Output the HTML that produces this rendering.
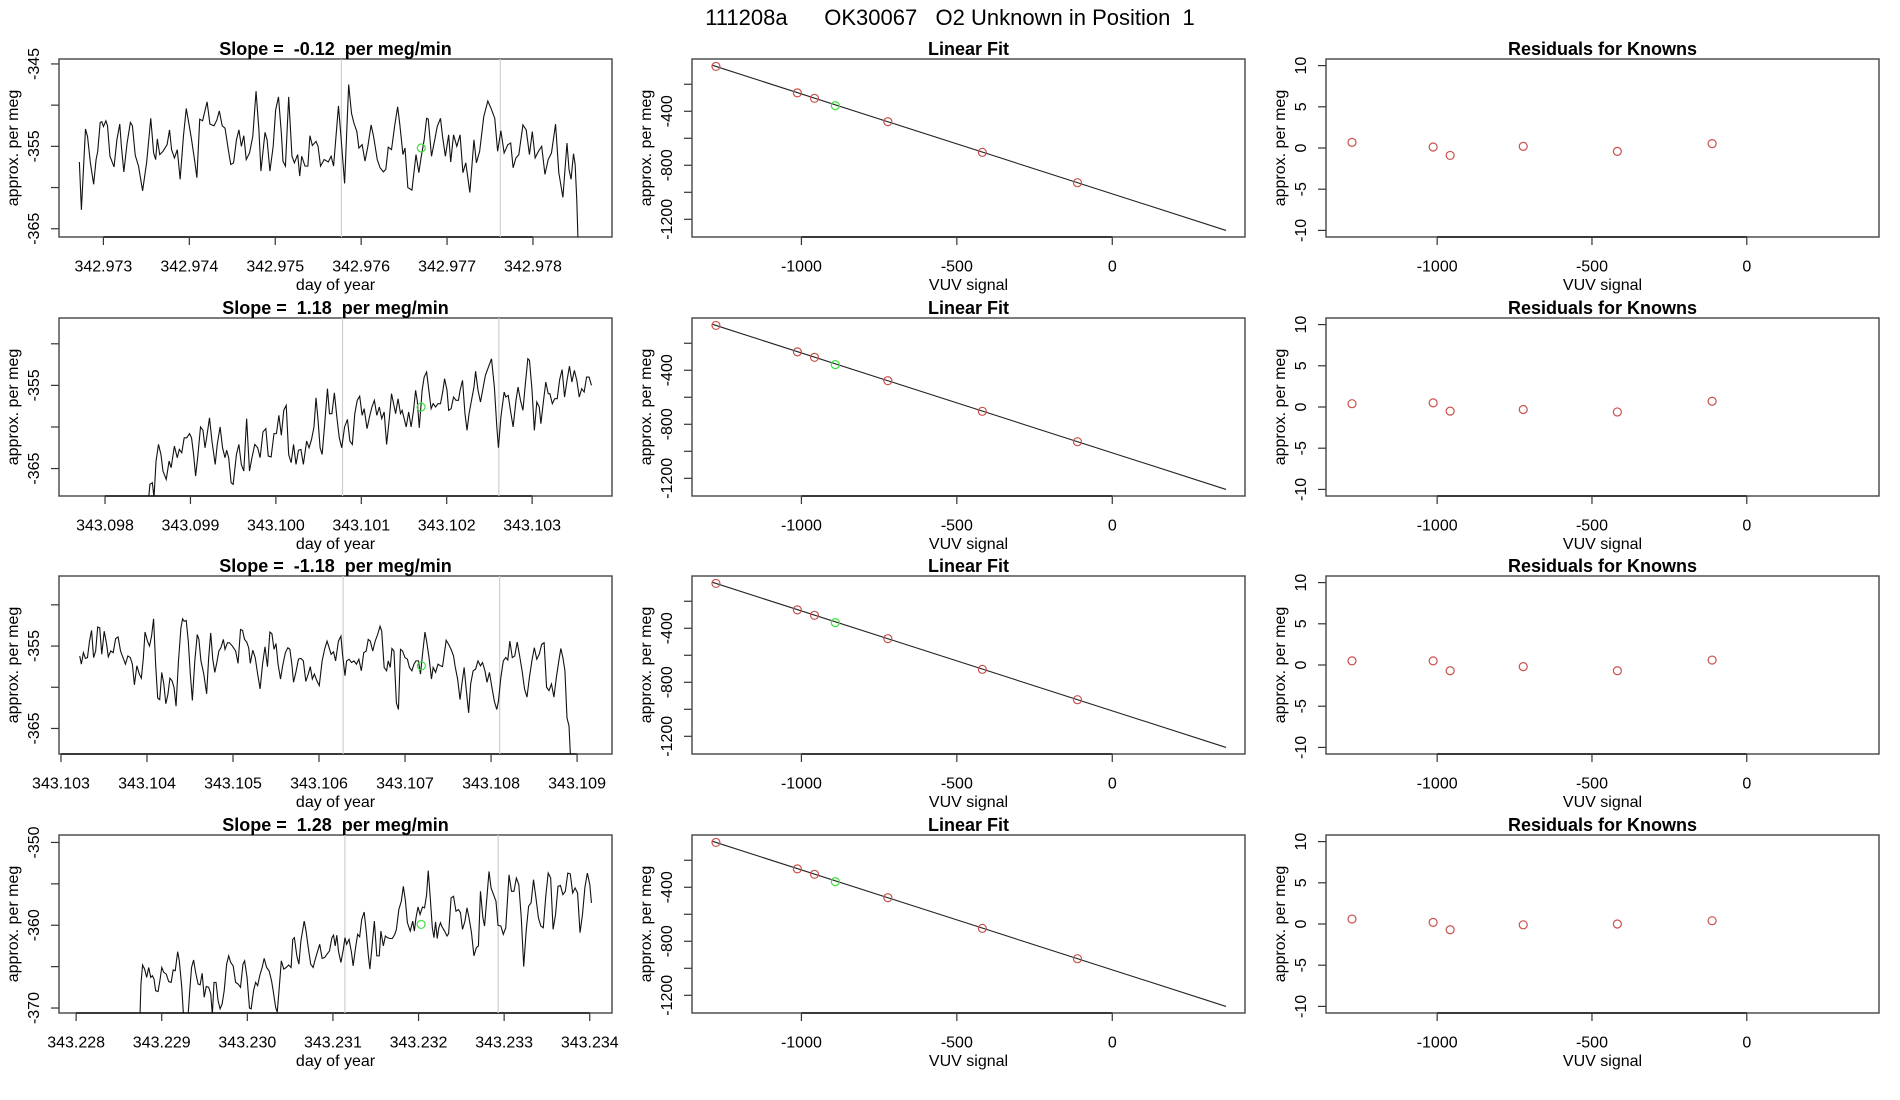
<!DOCTYPE html>
<html><head><meta charset="utf-8"><title>111208a OK30067 O2 Unknown in Position 1</title>
<style>
html,body{margin:0;padding:0;background:#fff;}
svg{display:block;font-family:"Liberation Sans",Arial,sans-serif;}
</style></head>
<body>
<svg id="fig" width="1900" height="1100" viewBox="0 0 1900 1100" xmlns="http://www.w3.org/2000/svg">
<rect x="0" y="0" width="1900" height="1100" fill="#fff"/>
<text x="950" y="25" font-size="22" text-anchor="middle" xml:space="preserve" style="white-space:pre">111208a      OK30067   O2 Unknown in Position  1</text>
</svg>
<script>
// ---------- Row 1 data ----------
const row1Clock=[195,200,210,215,222,230,236,240,246,250,254,260,264,270,280,287,294,298,304,312,320,325,332,340,350,360,370,377,382,386,392,400,410,416,421,428,435,442,450,457,465,470,478,483,490,497,508,515,525,532,538,545,552,560,566,573,580,586,592,598,604,612,620,628,635,640,650,655,662,670,676,683,690,694,700,708,716,722,730,735,740,748,755,760,766,775,780,786,795,805,812,818,830,838,845,855,862,868,875,880,888,895,902,910,916,925,932,940,946,952,960,968,975,980,988,993,1000,1010,1020,1027,1032,1040,1046,1050,1058,1066,1072,1080,1085,1092,1100,1105,1112,1120,1128,1135,1142,1152,1162,1168,1176,1186,1196,1204,1213,1220,1228,1236,1245,1252,1258,1265,1272,1282,1290,1298,1305,1312,1320,1328,1336,1344,1352,1362,1370,1380,1390,1395,1400,1406,1410,1414,1418];
const row1Values=[-356.9,-362.7,-352.9,-353.8,-357.0,-359.6,-356.6,-355.6,-352.1,-352.0,-352.6,-351.9,-352.5,-356.2,-357.5,-354.2,-352.3,-355.0,-358.1,-354.6,-352.1,-352.5,-356.1,-357.4,-360.4,-356.9,-351.6,-355.8,-356.6,-354.1,-356.0,-355.6,-354.8,-353.0,-355.4,-356.4,-355.4,-359.0,-353.8,-350.4,-352.7,-354.2,-356.9,-358.8,-351.7,-351.9,-349.6,-352.3,-352.5,-351.8,-350.7,-352.5,-352.8,-355.4,-357.2,-357.0,-354.2,-353.0,-355.0,-353.7,-356.6,-355.8,-353.8,-348.3,-353.0,-358.0,-353.3,-354.2,-358.0,-355.0,-350.6,-349.0,-353.4,-356.8,-357.4,-349.0,-356.2,-357.0,-356.0,-358.6,-356.2,-357.4,-357.4,-353.7,-354.9,-354.4,-355.0,-357.4,-356.6,-356.9,-356.2,-357.4,-350.1,-355.0,-359.5,-347.5,-351.0,-352.2,-353.2,-355.2,-354.8,-356.8,-355.0,-352.4,-353.8,-356.6,-357.6,-358.1,-357.8,-355.1,-355.4,-352.4,-350.2,-352.2,-356.0,-355.2,-360.0,-360.3,-356.0,-358.2,-356.5,-354.2,-351.6,-351.7,-356.2,-354.2,-352.6,-351.6,-353.8,-356.2,-353.6,-356.9,-353.6,-355.0,-353.6,-358.2,-357.0,-360.6,-354.2,-357.0,-355.6,-351.4,-349.5,-350.4,-351.6,-355.6,-353.1,-355.8,-354.8,-354.6,-357.6,-356.4,-356.0,-352.4,-353.0,-356.0,-353.2,-356.4,-355.6,-355.0,-358.4,-356.6,-355.8,-352.3,-358.2,-361.2,-354.6,-357.8,-359.0,-355.9,-357.2,-361.5,-368];
const row1TimeRange=[342.97272,342.978529];
const row1XTicks=[342.973,342.974,342.975,342.976,342.977,342.978];
const row1XLim=[342.972483,342.978920];
const row1YLim=[-366.0,-344.4];
const row1YTicks=[-345,-350,-355,-360,-365];
const row1YLabels=[-345,-355,-365];
const row1VLines=[342.97577,342.97762];
const row1Unknown=[342.97670,-355.2];

// ---------- Row 2 data ----------
const row2Clock=[365,368,374,378,383,389,395,400,408,415,420,428,435,440,446,452,458,465,470,475,480,485,492,498,503,507,514,520,528,533,540,546,552,556,561,567,572,580,586,592,598,605,612,618,625,632,638,645,652,658,665,672,678,684,690,696,702,708,714,720,726,732,738,744,752,758,764,770,775,780,785,790,796,803,808,814,820,826,832,838,845,852,858,864,870,876,882,888,893,900,906,912,918,924,930,936,942,948,955,960,965,970,976,982,986,990,996,1002,1008,1014,1019,1023,1028,1035,1040,1046,1052,1057,1062,1068,1074,1080,1086,1090,1096,1100,1106,1112,1118,1124,1128,1134,1140,1145,1150,1156,1162,1166,1172,1178,1184,1190,1196,1205,1212,1218,1222,1228,1236,1240,1246,1252,1258,1265,1270,1276,1282,1288,1294,1298,1304,1310,1316,1322,1326,1332,1338,1344,1348,1354,1360,1366,1372,1378,1384,1390,1396,1402,1408,1414,1420,1426,1432,1438,1444,1450];
const row2Values=[-368.5,-366.9,-366.7,-368.5,-364.1,-362.1,-363.3,-365.3,-366.3,-364.1,-364.9,-362.3,-363.7,-362.7,-363.1,-361.3,-361.3,-360.8,-361.3,-363.3,-365.9,-363.7,-360.0,-360.4,-362.5,-361.3,-358.9,-361.7,-364.5,-362.1,-360.0,-362.5,-363.7,-362.8,-363.7,-366.7,-366.9,-363.3,-362.1,-364.5,-365.3,-359.0,-365.3,-363.7,-362.1,-362.5,-363.7,-360.6,-360.2,-363.5,-363.6,-360.8,-360.8,-358.6,-361.0,-358.0,-357.4,-363.3,-364.3,-362.1,-364.5,-362.8,-362.7,-364.5,-361.7,-362.5,-361.5,-360.0,-356.5,-359.2,-362.5,-363.3,-359.8,-355.4,-358.4,-358.4,-355.9,-358.8,-361.3,-362.5,-360.0,-359.1,-361.7,-362.1,-358.4,-356.8,-356.3,-358.6,-357.8,-360.2,-358.8,-357.6,-356.8,-358.6,-357.6,-359.0,-358.2,-362.1,-358.8,-356.0,-357.2,-358.4,-356.6,-358.4,-358.0,-358.8,-360.0,-358.2,-360.0,-358.0,-355.6,-356.8,-360.1,-355.6,-354.0,-353.4,-355.8,-357.8,-357.2,-357.6,-357.2,-357.2,-355.6,-354.2,-355.6,-358.0,-357.8,-356.4,-356.8,-356.8,-355.6,-354.4,-358.4,-360.4,-358.4,-356.8,-355.2,-353.3,-355.6,-357.0,-355.4,-353.8,-353.0,-351.8,-355.2,-360.0,-362.5,-358.8,-355.8,-356.4,-356.2,-358.2,-360.0,-356.8,-355.2,-356.8,-358.0,-354.8,-351.8,-352.0,-355.4,-360.4,-357.0,-357.6,-359.6,-357.0,-354.6,-356.0,-356.0,-357.2,-356.6,-356.6,-354.3,-353.1,-356.4,-354.4,-352.7,-354.6,-353.2,-354.4,-356.4,-355.4,-355.8,-354.0,-354.0,-355.0];
const row2TimeRange=[343.098511,343.103695];
const row2XTicks=[343.098,343.099,343.100,343.101,343.102,343.103];
const row2XLim=[343.097461,343.103935];
const row2YLim=[-368.3,-346.9];
const row2YTicks=[-350,-355,-360,-365];
const row2YLabels=[-355,-365];
const row2VLines=[343.10078,343.10261];
const row2Unknown=[343.10170,-357.6];

// ---------- Row 3 data ----------
const row3Clock=[196,200,205,210,215,220,225,230,235,240,245,250,256,262,266,272,278,284,290,296,302,308,314,320,325,330,336,342,347,352,356,362,367,372,377,382,387,392,397,402,407,412,417,422,427,432,438,444,448,452,457,462,467,472,478,484,488,493,500,507,512,517,522,527,532,537,542,548,552,558,563,570,578,584,590,595,600,605,610,614,620,626,632,638,644,650,656,662,667,672,677,682,688,694,700,706,711,716,720,726,732,738,744,750,756,761,766,771,777,783,790,796,802,806,812,818,823,830,836,840,846,850,856,862,868,874,880,886,892,898,903,908,914,920,926,932,936,942,948,952,957,961,966,972,977,982,987,993,999,1004,1010,1015,1020,1026,1031,1036,1042,1046,1052,1058,1062,1068,1074,1080,1085,1094,1100,1106,1112,1116,1122,1128,1133,1138,1143,1149,1154,1160,1166,1172,1178,1183,1189,1194,1200,1206,1212,1218,1222,1228,1234,1240,1245,1250,1256,1262,1268,1274,1280,1286,1292,1298,1304,1310,1316,1322,1328,1334,1340,1346,1352,1358,1364,1370,1375,1380,1385,1390,1395,1400];
const row3Values=[-356.2,-357.2,-355.8,-356.5,-356.4,-354.4,-353.1,-356.4,-355.6,-352.7,-352.8,-356.0,-353.2,-354.8,-356.3,-355.6,-355.8,-354.1,-353.9,-355.6,-356.4,-357.2,-356.2,-356.4,-357.2,-359.7,-357.4,-358.4,-358.9,-356.4,-353.3,-354.4,-355.0,-353.8,-351.7,-357.2,-361.3,-361.5,-358.2,-359.6,-362.0,-360.9,-358.9,-359.2,-360.0,-362.3,-356.8,-352.8,-351.7,-352.0,-351.9,-354.4,-358.4,-361.6,-356.8,-353.6,-354.2,-356.8,-358.4,-360.8,-356.4,-353.4,-356.6,-358.2,-357.0,-355.6,-355.2,-354.2,-355.4,-354.6,-354.6,-355.0,-355.6,-357.1,-353.0,-353.1,-354.2,-354.5,-355.2,-357.1,-355.5,-356.4,-358.4,-360.2,-357.2,-355.1,-357.5,-353.3,-353.5,-355.4,-354.7,-357.2,-359.0,-357.2,-355.8,-355.2,-355.4,-357.3,-359.4,-358.1,-356.6,-356.5,-356.8,-359.3,-358.4,-357.5,-359.0,-358.4,-359.2,-359.8,-356.8,-355.4,-354.4,-355.0,-356.0,-355.7,-356.8,-354.4,-353.8,-356.0,-358.6,-356.8,-356.6,-357.0,-356.8,-357.2,-356.6,-358.0,-355.8,-355.6,-354.2,-354.4,-355.6,-354.4,-353.6,-352.6,-353.2,-357.6,-358.0,-356.8,-357.6,-355.3,-355.6,-361.9,-362.7,-355.4,-355.6,-356.4,-356.6,-357.6,-358.0,-357.2,-356.8,-356.8,-358.4,-356.0,-353.3,-354.4,-356.4,-359.0,-357.6,-358.2,-357.2,-357.4,-357.5,-354.3,-354.8,-355.4,-356.2,-357.5,-359.0,-361.5,-359.4,-357.6,-360.2,-363.1,-359.6,-358.0,-357.8,-356.8,-357.4,-357.0,-358.0,-359.4,-358.2,-360.0,-361.7,-362.7,-361.7,-358.8,-356.8,-356.4,-356.7,-354.4,-356.4,-356.2,-354.5,-356.2,-358.0,-360.2,-361.2,-358.8,-356.8,-355.2,-356.6,-356.0,-354.8,-354.6,-360.0,-360.4,-359.6,-361.2,-358.8,-356.8,-355.3,-356.4,-358.0,-363.7,-364.7,-370];
const row3TimeRange=[343.103218,343.108930];
const row3XTicks=[343.103,343.104,343.105,343.106,343.107,343.108,343.109];
const row3XLim=[343.102977,343.109406];
const row3YLim=[-368.1,-346.5];
const row3YTicks=[-350,-355,-360,-365];
const row3YLabels=[-355,-365];
const row3VLines=[343.10628,343.10810];
const row3Unknown=[343.10719,-357.4];

// ---------- Row 4 data ----------
const row4Clock=[343,346,350,355,360,365,370,374,378,382,388,393,397,402,408,414,420,425,430,436,440,446,450,455,460,465,470,475,480,486,491,496,501,506,512,517,521,525,530,535,540,545,550,556,561,566,572,578,584,590,596,600,606,612,616,622,627,632,637,643,648,654,660,666,670,676,680,685,690,696,702,708,714,718,722,728,733,738,742,746,750,756,762,768,772,778,784,790,796,802,808,814,818,822,826,830,836,842,846,850,856,862,866,872,877,882,887,893,898,903,907,912,918,924,930,934,940,945,950,956,962,968,972,978,984,989,994,999,1006,1012,1016,1020,1025,1030,1036,1041,1046,1050,1055,1060,1064,1068,1072,1076,1080,1084,1090,1096,1100,1106,1112,1118,1124,1129,1134,1140,1145,1150,1156,1162,1168,1173,1178,1184,1188,1194,1199,1204,1210,1216,1221,1228,1234,1240,1248,1254,1260,1266,1272,1278,1284,1290,1296,1302,1308,1314,1320,1326,1332,1338,1344,1350,1356,1362,1368,1374,1380,1386,1392,1398,1404,1410,1416,1422,1428,1434,1440,1446,1450];
const row4Values=[-372,-367.1,-364.8,-365.3,-366.3,-365.1,-366.3,-366.1,-366.5,-367.9,-368.0,-366.5,-365.1,-365.7,-365.9,-366.8,-366.9,-365.4,-365.5,-363.2,-364.3,-367.5,-370.7,-370.8,-372,-368.3,-365.1,-364.2,-365.7,-367.1,-367.2,-365.8,-368.7,-367.4,-367.5,-368.3,-370.8,-366.9,-366.9,-369.1,-370.1,-369.5,-367.9,-364.7,-363.7,-364.5,-364.9,-366.9,-367.1,-367.5,-364.7,-364.3,-366.3,-370.0,-370.1,-367.9,-366.9,-367.3,-366.1,-365.1,-364.0,-365.1,-365.5,-366.7,-367.9,-369.9,-370.5,-367.5,-364.3,-365.3,-365.1,-364.8,-365.1,-361.7,-361.5,-363.7,-364.7,-361.9,-360.7,-359.5,-360.5,-362.7,-364.7,-365.1,-364.3,-363.3,-362.3,-364.0,-363.9,-363.5,-363.1,-361.5,-361.2,-362.5,-361.2,-363.1,-364.5,-362.9,-361.5,-362.3,-361.7,-363.3,-364.9,-362.7,-361.1,-361.4,-359.3,-358.4,-360.7,-363.5,-365.3,-362.7,-359.5,-363.7,-363.7,-360.7,-362.5,-361.3,-361.5,-361.6,-361.6,-361.1,-360.5,-358.1,-357.1,-355.3,-357.0,-359.7,-360.7,-359.5,-360.7,-359.1,-357.8,-358.7,-357.8,-357.9,-356.3,-353.4,-356.7,-360.3,-361.5,-359.6,-361.6,-360.3,-359.7,-360.2,-360.7,-361.3,-361.0,-356.7,-356.5,-358.3,-358.1,-358.5,-360.5,-359.5,-357.9,-359.1,-360.9,-363.7,-362.7,-362.5,-355.9,-359.1,-360.1,-356.5,-353.5,-355.5,-356.3,-357.1,-360.0,-360.1,-361.1,-360.3,-353.9,-355.9,-355.9,-354.3,-355.1,-359.1,-365.0,-360.7,-357.7,-357.3,-354.5,-356.7,-359.1,-360.1,-360.3,-356.5,-353.7,-354.3,-360.5,-358.7,-355.3,-355.2,-356.3,-355.9,-353.7,-353.8,-356.1,-355.5,-356.1,-360.9,-358.7,-355.4,-353.7,-355.1,-357.3];
const row4TimeRange=[343.228743,343.234020];
const row4XTicks=[343.228,343.229,343.230,343.231,343.232,343.233,343.234];
const row4XLim=[343.227800,343.234260];
const row4YLim=[-370.6,-349.1];
const row4YTicks=[-350,-355,-360,-365,-370];
const row4YLabels=[-350,-360,-370];
const row4VLines=[343.23114,343.23293];
const row4Unknown=[343.23203,-359.9];

const slopeTitles=["-0.12","1.18","-1.18","1.28"];

// ---------- Linear fit / residual data ----------
const knownSignal=[-1275,-1013,-958,-722,-418,-112];
const knownValue=[-68,-264,-304,-477,-704,-929];
const unknownSignal=[-891];
const unknownValue=[-358];
const fitIntercept=-1011.5;
const fitSlope=-0.740;
const fitRange=[-1286,366];
const fitXLim=[-1352,427];
const fitYLim=[-1331,-13];
const fitXTicks=[-1000,-500,0];
const fitYTicks=[-200,-400,-600,-800,-1000,-1200];
const fitYLabels=[-400,-800,-1200];
const resid1=[0.68,0.12,-0.9,0.2,-0.41,0.53];
const resid2=[0.4,0.5,-0.5,-0.3,-0.6,0.7];
const resid3=[0.5,0.5,-0.7,-0.2,-0.7,0.6];
const resid4=[0.6,0.2,-0.7,-0.1,0.0,0.4];
const residXLim=[-1359,427];
const residYLim=[-10.8,10.8];
const residYTicks=[10,5,0,-5,-10];

const NS="http://www.w3.org/2000/svg";
const svg=document.getElementById('fig');
function mk(tag,attrs,parent){const e=document.createElementNS(NS,tag);for(const k in attrs)e.setAttribute(k,attrs[k]);(parent||svg).appendChild(e);return e;}
const ROW_TOPS=[59,318,576,835];
const PH=178;
const COL_L=[59,692,1326];
const COL_W=[553,553,553];
let clipN=0;

function axesFrame(g,L,T,W,H,sx,sy,xt,xlab,yt,ylabShown,title,xtitle,fmtX){
  const clip=mk('clipPath',{id:'c'+(++clipN)},g);
  mk('rect',{x:L,y:T,width:W,height:H},clip);
  const xa=mk('line',{x1:sx(xt[0]),x2:sx(xt[xt.length-1]),y1:T+H,y2:T+H,stroke:'#222','stroke-width':2},g);
  
  
  xt.forEach(v=>{
    const X=sx(v);
    const tk=mk('line',{x1:X,x2:X,y1:T+H,y2:T+H+8,stroke:'#333','stroke-width':1.2},g);
    
    
    const tl=mk('text',{x:X,y:T+H+34.5,'font-size':16,'text-anchor':'middle',fill:'#000'},g);
    
    
    tl.textContent=fmtX(v);
  });
  yt.forEach(v=>{
    const Y=sy(v);
    const tk=mk('line',{x1:L-8,x2:L,y1:Y,y2:Y,stroke:'#333','stroke-width':1.2},g);
    
    
    if(ylabShown.indexOf(v)>=0){
      const tl=mk('text',{x:L-20,y:Y,'font-size':16,'text-anchor':'middle',transform:`rotate(-90 ${L-20} ${Y})`,fill:'#000'},g);
      
      
      tl.textContent=String(v);
    }
  });
  const box=mk('rect',{x:L,y:T,width:W,height:H,fill:'none',stroke:'#444','stroke-width':1.4},g);
  
  
  const tt=mk('text',{x:L+W/2,y:T-4,'font-size':18,'font-weight':'bold','text-anchor':'middle','xml:space':'preserve',style:'white-space:pre',fill:'#000'},g);
  
  
  tt.textContent=title;
  const xl=mk('text',{x:L+W/2,y:T+H+53,'font-size':16,'text-anchor':'middle',fill:'#000'},g);
  
  
  xl.textContent=xtitle;
  const yx=L-41,yc=T+H/2;
  const yl=mk('text',{x:yx,y:yc,'font-size':16,'text-anchor':'middle',transform:`rotate(-90 ${yx} ${yc})`,fill:'#000'},g);
  
  
  yl.textContent='approx. per meg';
  return 'url(#c'+clipN+')';
}

function linePanel(r,clock,values,trange,xt,xlim,ylim,yt,ylab,vl,unk){
  const L=COL_L[0],T=ROW_TOPS[r],W=COL_W[0],H=PH;
  const g=mk('g',{});
  
  
  const sx=t=>L+(t-xlim[0])/(xlim[1]-xlim[0])*W;
  const sy=v=>T+(ylim[1]-v)/(ylim[1]-ylim[0])*H;
  const cp=axesFrame(g,L,T,W,H,sx,sy,xt,null,yt,ylab,'Slope =  '+slopeTitles[r]+'  per meg/min','day of year',v=>v.toFixed(3));
  vl.forEach(t=>{
    const ln=mk('line',{x1:sx(t),x2:sx(t),y1:T,y2:T+H,stroke:'#cfcfcf','stroke-width':1.2},g);
    
    
  });
  const n=Math.min(clock.length,values.length);
  const c0=clock[0],c1=clock[n-1];
  let d='';
  for(let i=0;i<n;i++){
    const t=trange[0]+(clock[i]-c0)/(c1-c0)*(trange[1]-trange[0]);
    d+=(i?'L':'M')+sx(t).toFixed(2)+' '+sy(values[i]).toFixed(2);
  }
  const p=mk('path',{d:d,fill:'none',stroke:'#111','stroke-width':1.1,'clip-path':cp},g);
  
  
  const c=mk('circle',{cx:sx(unk[0]),cy:sy(unk[1]),r:4,fill:'none',stroke:'#3de03d','stroke-width':1.2},g);
  
  
}

function fitPanel(r){
  const L=COL_L[1],T=ROW_TOPS[r],W=COL_W[1],H=PH;
  const g=mk('g',{});
  
  
  const sx=v=>L+(v-fitXLim[0])/(fitXLim[1]-fitXLim[0])*W;
  const sy=v=>T+(fitYLim[1]-v)/(fitYLim[1]-fitYLim[0])*H;
  axesFrame(g,L,T,W,H,sx,sy,fitXTicks,null,fitYTicks,fitYLabels,'Linear Fit','VUV signal',v=>String(v));
  const ln=mk('line',{x1:sx(fitRange[0]),y1:sy(fitIntercept+fitSlope*fitRange[0]),x2:sx(fitRange[1]),y2:sy(fitIntercept+fitSlope*fitRange[1]),stroke:'#222','stroke-width':1.1},g);
  
  
  knownSignal.forEach((x,i)=>{
    const c=mk('circle',{cx:sx(x),cy:sy(knownValue[i]),r:4,fill:'none',stroke:'#c9504c','stroke-width':1.2},g);
    
    
  });
  unknownSignal.forEach((x,i)=>{
    const c=mk('circle',{cx:sx(x),cy:sy(unknownValue[i]),r:4,fill:'none',stroke:'#3de03d','stroke-width':1.2},g);
    
    
  });
}

function residPanel(r,res){
  const L=COL_L[2],T=ROW_TOPS[r],W=COL_W[2],H=PH;
  const g=mk('g',{});
  
  
  const sx=v=>L+(v-residXLim[0])/(residXLim[1]-residXLim[0])*W;
  const sy=v=>T+(residYLim[1]-v)/(residYLim[1]-residYLim[0])*H;
  axesFrame(g,L,T,W,H,sx,sy,fitXTicks,null,residYTicks,residYTicks,'Residuals for Knowns','VUV signal',v=>String(v));
  knownSignal.forEach((x,i)=>{
    const c=mk('circle',{cx:sx(x),cy:sy(res[i]),r:4,fill:'none',stroke:'#c9504c','stroke-width':1.2},g);
    
    
  });
}

linePanel(0,row1Clock,row1Values,row1TimeRange,row1XTicks,row1XLim,row1YLim,row1YTicks,row1YLabels,row1VLines,row1Unknown);
linePanel(1,row2Clock,row2Values,row2TimeRange,row2XTicks,row2XLim,row2YLim,row2YTicks,row2YLabels,row2VLines,row2Unknown);
linePanel(2,row3Clock,row3Values,row3TimeRange,row3XTicks,row3XLim,row3YLim,row3YTicks,row3YLabels,row3VLines,row3Unknown);
linePanel(3,row4Clock,row4Values,row4TimeRange,row4XTicks,row4XLim,row4YLim,row4YTicks,row4YLabels,row4VLines,row4Unknown);
[0,1,2,3].forEach(fitPanel);
residPanel(0,resid1);residPanel(1,resid2);residPanel(2,resid3);residPanel(3,resid4);
</script>
</body></html>
